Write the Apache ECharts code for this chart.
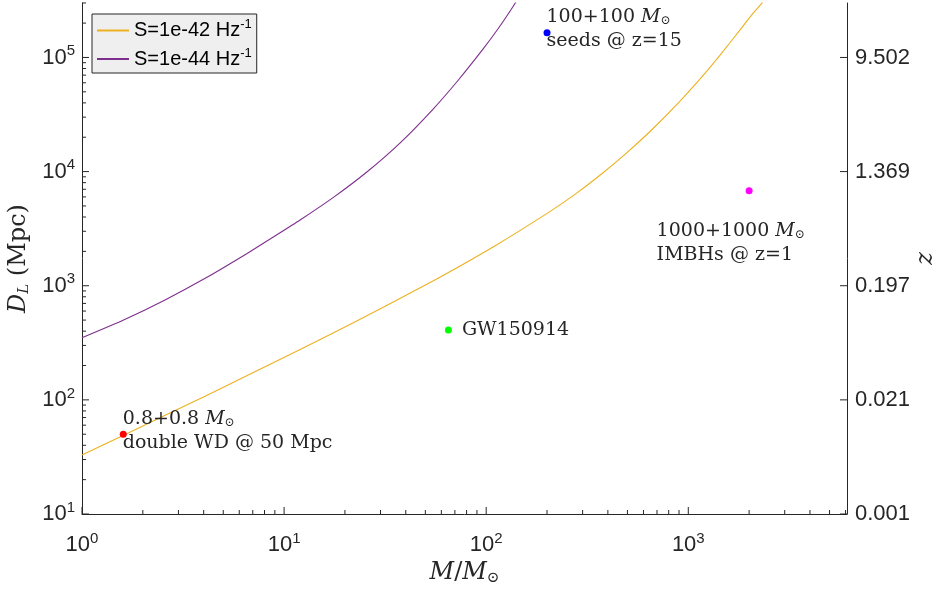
<!DOCTYPE html>
<html>
<head>
<meta charset="utf-8">
<script src="https://cdn.jsdelivr.net/npm/echarts@6/dist/echarts.min.js"></script>
<style>html,body{margin:0;padding:0;background:#fff;}#c{width:936px;height:589px;}</style>
</head>
<body>
<div id="c"></div>
<script>
// ---- data ----
const legendLabels = ['S=1e-42', 'S=1e-44'];
const curve42M = [1, 1.578, 4.064, 8.526, 16.9, 31.62, 57.21, 110.8, 207.4, 275.9, 366.8, 487.6, 648.5, 862.2, 1147, 1440, 1809, 2027, 2196, 2298, 2378, 2433];
const curve42D = [32.9, 48.2, 107.8, 204.8, 374, 659.6, 1152, 2243, 4485, 6346, 9338, 14237, 22570, 37400, 65160, 105300, 175400, 228000, 269100, 294700, 322800, 357000];
const curve44M = [1, 1.596, 2.576, 4.111, 6.559, 8.924, 12.0, 17.68, 25.76, 37.53, 54.65, 72.67, 96.6, 114.7, 136.1, 156];
const curve44D = [350, 498, 751, 1173, 1917, 2696, 3762, 6000, 9959, 17856, 35340, 63150, 118750, 179300, 281300, 414500];
const pointNames = ['double WD', 'GW150914', 'seeds', 'IMBHs'];
const pointM = [1.6, 65, 200, 2000];
const pointD = [50, 410, 165000, 6800];
const xTickExps = [0, 1, 2, 3];
const yTickExps = [1, 2, 3, 4, 5];
const zTickLabels = ['0.001', '0.021', '0.197', '1.369', '9.502'];
const xMin = 1, xMax = 6100, yMin = 10, yMax = 300000;

// ---- build ----
const ORANGE = '#EDB120', PURPLE = '#7E2F8E';
const SERIF = 'DejaVu Serif';
const SANS = 'Liberation Sans';
const INK = '#262626';
const zip = (a, b) => a.map((v, i) => [v, b[i]]);

function expLabel(list) {
  return function (v) {
    const l = Math.log10(v), e = Math.round(l);
    if (Math.abs(l - e) > 1e-6 || list.indexOf(e) < 0) return '';
    return '{b|10}{s|' + e + '}';
  };
}
const supRich = {
  b: { fontSize: 22, fontFamily: SANS, color: INK },
  s: { fontSize: 15, fontFamily: SANS, color: INK, padding: [0, 0, 13, 0] }
};

// tick marks (through the axis scales)
const tickData = [];
for (let e = 0; e <= 3; e++) for (let k = 1; k <= 9; k++) {
  const v = k * Math.pow(10, e);
  if (v >= xMin && v <= xMax) tickData.push([v, yMin, 0, k === 1 ? 1 : 0]);
}
for (let e = 1; e <= 5; e++) for (let k = 1; k <= 9; k++) {
  const v = k * Math.pow(10, e);
  if (v >= yMin && v <= yMax) tickData.push([xMin, v, 1, k === 1 ? 1 : 0]);
}
yTickExps.forEach(e => tickData.push([xMax, Math.pow(10, e), 2, 1]));

const pointColors = ['#ff0000', '#00ff00', '#0000ff', '#ff00ff'];
const FS = 19;
const labelRich = {
  n: { fontSize: FS, fontFamily: SERIF, color: INK, lineHeight: 24 },
  i: { fontSize: FS, fontFamily: SERIF, fontStyle: 'italic', color: INK, lineHeight: 24 },
  u: { fontSize: 12, fontFamily: SERIF, color: INK, padding: [8, 0, 0, 0], lineHeight: 24 }
};
const nameRich = {
  n: { fontSize: 24, fontFamily: SERIF, color: INK },
  i: { fontSize: 24, fontFamily: SERIF, fontStyle: 'italic', color: INK },
  u: { fontSize: 15, fontFamily: SERIF, color: INK, padding: [10, 0, 0, 0] },
  ui: { fontSize: 15, fontFamily: SERIF, fontStyle: 'italic', color: INK, padding: [10, 0, 0, 0] }
};
const pointTexts = [
  '{n|0.8+0.8 }{i|M}{u|⊙}\n{n|double WD @ 50 Mpc}',
  '{n|GW150914}',
  '{n|100+100 }{i|M}{u|⊙}\n{n|seeds @ z=15}',
  '{n|1000+1000 }{i|M}{u|⊙}\n{n|IMBHs @ z=1}'
];
const pointOffsets = [[-4, -3], [10, 0], [-4, -4], [-96, 52]];

const pointSeries = pointM.map((m, i) => ({
  type: 'scatter', name: pointNames[i], data: [[m, pointD[i]]],
  symbolSize: 7, itemStyle: { color: pointColors[i], opacity: 1 }, z: 5,
  label: { show: true, position: 'right', distance: 0, offset: pointOffsets[i],
    formatter: pointTexts[i], rich: labelRich, align: 'left' },
  silent: true
}));

const chart = echarts.init(document.getElementById('c'));
chart.setOption({
  animation: false,
  backgroundColor: '#ffffff',
  grid: { left: 82, right: 89, top: 3, bottom: 75, containLabel: false, outerBoundsMode: 'none' },
  legend: {
    data: legendLabels, orient: 'vertical', left: 92, top: 14,
    backgroundColor: '#efefef', borderColor: INK, borderWidth: 1, borderRadius: 0,
    padding: [4, 5, 4, 4], itemWidth: 32, itemHeight: 14, itemGap: 6,
    itemStyle: { opacity: 0 },
    formatter: n => n + ' Hz{s|-1}',
    textStyle: { fontSize: 20, fontFamily: SANS, color: '#000',
      rich: { s: { fontSize: 13, fontFamily: SANS, color: '#000', padding: [0, 0, 12, 0] } } }
  },
  xAxis: {
    type: 'log', logBase: 10, min: xMin, max: xMax,
    name: '{i|M}{n|/}{i|M}{u|⊙}', nameLocation: 'middle', nameGap: 46,
    nameTextStyle: { rich: nameRich },
    axisLine: { show: true, lineStyle: { color: INK, width: 1 } },
    axisTick: { show: false }, splitLine: { show: false },
    axisLabel: { formatter: expLabel(xTickExps), rich: supRich, margin: 17, showMaxLabel: true }
  },
  yAxis: [{
    type: 'log', logBase: 10, min: yMin, max: yMax, position: 'left',
    name: '{i|D}{ui|L}{n| (Mpc)}', nameLocation: 'middle', nameGap: 48,
    nameTextStyle: { rich: nameRich },
    axisLine: { show: true, lineStyle: { color: INK, width: 1 } },
    axisTick: { show: false }, splitLine: { show: false },
    axisLabel: { formatter: expLabel(yTickExps), rich: supRich, margin: 7 }
  }, {
    type: 'log', logBase: 10, min: yMin, max: yMax, position: 'right',
    name: 'z', nameLocation: 'middle', nameGap: 66, nameRotate: -90, nameMoveOverlap: false,
    nameTextStyle: { fontSize: 24, fontFamily: SERIF, fontStyle: 'italic', color: INK },
    axisLine: { show: true, lineStyle: { color: INK, width: 1 } },
    axisTick: { show: false }, splitLine: { show: false },
    axisLabel: {
      margin: 8, fontSize: 22, fontFamily: SANS, color: INK,
      formatter: v => {
        const l = Math.log10(v), e = Math.round(l);
        if (Math.abs(l - e) > 1e-6) return '';
        const i = yTickExps.indexOf(e);
        return i < 0 ? '' : zTickLabels[i];
      }
    }
  }],
  series: [{
    type: 'line', name: legendLabels[0], data: zip(curve42M, curve42D),
    showSymbol: false, symbol: 'none', smooth: 0.15, clip: true,
    lineStyle: { color: ORANGE, width: 1.1 }, itemStyle: { color: ORANGE }
  }, {
    type: 'line', name: legendLabels[1], data: zip(curve44M, curve44D),
    showSymbol: false, symbol: 'none', smooth: 0.15, clip: true,
    lineStyle: { color: PURPLE, width: 1.1 }, itemStyle: { color: PURPLE }
  }].concat(pointSeries).concat([{
    type: 'custom', name: 'ticks', data: tickData, silent: true, z: 1,
    encode: { x: 0, y: 1 },
    renderItem: function (params, api) {
      const p = api.coord([api.value(0), api.value(1)]);
      const kind = api.value(2), major = api.value(3);
      const len = major ? 7 : 4;
      let x2 = p[0], y2 = p[1];
      if (kind === 0) y2 = p[1] - len;
      else if (kind === 1) x2 = p[0] + len;
      else x2 = p[0] - len;
      return { type: 'line', shape: { x1: p[0], y1: p[1], x2: x2, y2: y2 },
        style: { stroke: INK, lineWidth: 1 } };
    }
  }])
});
</script>
</body>
</html>
